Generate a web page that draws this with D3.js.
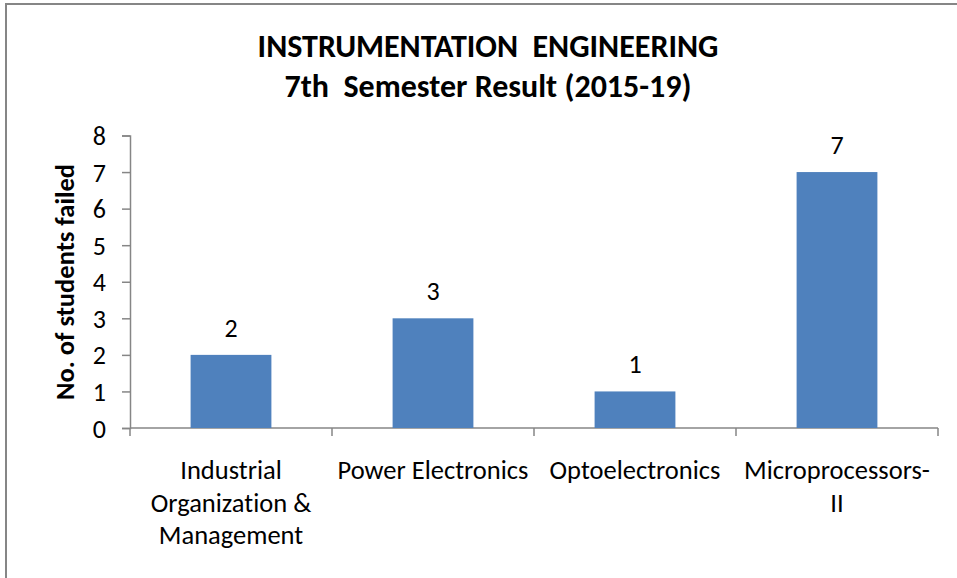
<!DOCTYPE html>
<html>
<head>
<meta charset="utf-8">
<script src="https://cdn.jsdelivr.net/npm/d3@7"></script>
<style>
  body { margin: 0; background: #fff; }
  svg text { font-family: Carlito, "Liberation Sans", Arial, sans-serif; fill: #000;
    font-variant-ligatures: none; font-feature-settings: "liga" 0, "clig" 0, "dlig" 0; }
</style>
</head>
<body>
<div id="chart"></div>
<script>
// chart data
const subjects = [
  ["Industrial", "Organization &", "Management"],
  ["Power Electronics"],
  ["Optoelectronics"],
  ["Microprocessors-", "II"]
];
const failed = [2, 3, 1, 7];
const yTicks = [0, 1, 2, 3, 4, 5, 6, 7, 8];
const titleLines = ["INSTRUMENTATION  ENGINEERING", "7th  Semester Result (2015-19)"];
const yLabel = "No. of students failed";

// Set dimensions and margins
const width = 957;
const height = 578;
const margin = {left: 130, right: 19, top: 135, bottom: 150};
const axisColor = "#868686";

let svg = d3.select("#chart")
  .append("svg")
  .attr("width", width)
  .attr("height", height);

// outer frame (only top and left edges visible)
svg.append("line")
  .attr("x1", 5).attr("x2", width).attr("y1", 4).attr("y2", 4)
  .attr("stroke", axisColor).attr("stroke-width", 2);
svg.append("line")
  .attr("x1", 6).attr("x2", 6).attr("y1", 4).attr("y2", height)
  .attr("stroke", axisColor).attr("stroke-width", 2);

// title
svg.append("g")
  .selectAll("text")
  .data(titleLines)
  .enter()
  .append("text")
    .attr("x", 488)
    .attr("y", (d, i) => 57 + i * 40)
    .attr("text-anchor", "middle")
    .attr("font-weight", "bold")
    .attr("font-size", "32px")
    .style("white-space", "pre")
    .text(d => d);

// scales
let xScale = d3.scaleBand()
  .domain(d3.range(failed.length))
  .range([margin.left, width - margin.right])
  .paddingInner(0.6)
  .paddingOuter(0.3);

let yScale = d3.scaleLinear()
  .domain([0, 8])
  .range([428, 135.5]);

// y axis
let yAxis = svg.append("g")
  .attr("transform", `translate(${margin.left}, 0)`)
  .call(d3.axisLeft(yScale).tickValues(yTicks).tickSize(8).tickPadding(16).tickFormat(d3.format("d")));
yAxis.selectAll("text").attr("font-size", "26px").attr("dy", "0.35em");
yAxis.select(".domain").attr("stroke", axisColor).attr("stroke-width", 1.5);
yAxis.selectAll(".tick line").attr("stroke", axisColor).attr("stroke-width", 1.5);

// x axis: line with ticks at category boundaries
let step = xScale.step();
let boundaries = d3.range(failed.length + 1).map(i => margin.left + i * step);
svg.append("line")
  .attr("x1", margin.left).attr("x2", width - margin.right)
  .attr("y1", yScale(0)).attr("y2", yScale(0))
  .attr("stroke", axisColor).attr("stroke-width", 1.5);
svg.append("g")
  .selectAll("line")
  .data(boundaries)
  .enter()
  .append("line")
    .attr("x1", d => d).attr("x2", d => d)
    .attr("y1", yScale(0)).attr("y2", yScale(0) + 8)
    .attr("stroke", axisColor).attr("stroke-width", 1.5);

// bars
svg.selectAll(".bar")
  .data(failed)
  .enter()
  .append("rect")
    .attr("class", "bar")
    .attr("x", (d, i) => xScale(i))
    .attr("y", d => yScale(d))
    .attr("width", xScale.bandwidth())
    .attr("height", d => yScale(0) - yScale(d))
    .attr("fill", "#4F81BD");

// value labels
svg.selectAll(".val")
  .data(failed)
  .enter()
  .append("text")
    .attr("class", "val")
    .attr("x", (d, i) => xScale(i) + xScale.bandwidth() / 2)
    .attr("y", d => yScale(d) - 18)
    .attr("text-anchor", "middle")
    .attr("font-size", "26px")
    .text(d => d);

// category labels
let cats = svg.selectAll(".cat")
  .data(subjects)
  .enter()
  .append("text")
    .attr("class", "cat")
    .attr("text-anchor", "middle")
    .attr("font-size", "26.5px");
cats.selectAll("tspan")
  .data((d, i) => d.map(line => ({line: line, i: i})))
  .enter()
  .append("tspan")
    .attr("x", d => xScale(d.i) + xScale.bandwidth() / 2)
    .attr("y", (d, j) => 479 + j * 32.5)
    .text(d => d.line);

// y axis title
svg.append("text")
  .attr("transform", "translate(74, 282) rotate(-90)")
  .attr("text-anchor", "middle")
  .attr("font-weight", "bold")
  .attr("font-size", "26.5px")
  .text(yLabel);
</script>
</body>
</html>
